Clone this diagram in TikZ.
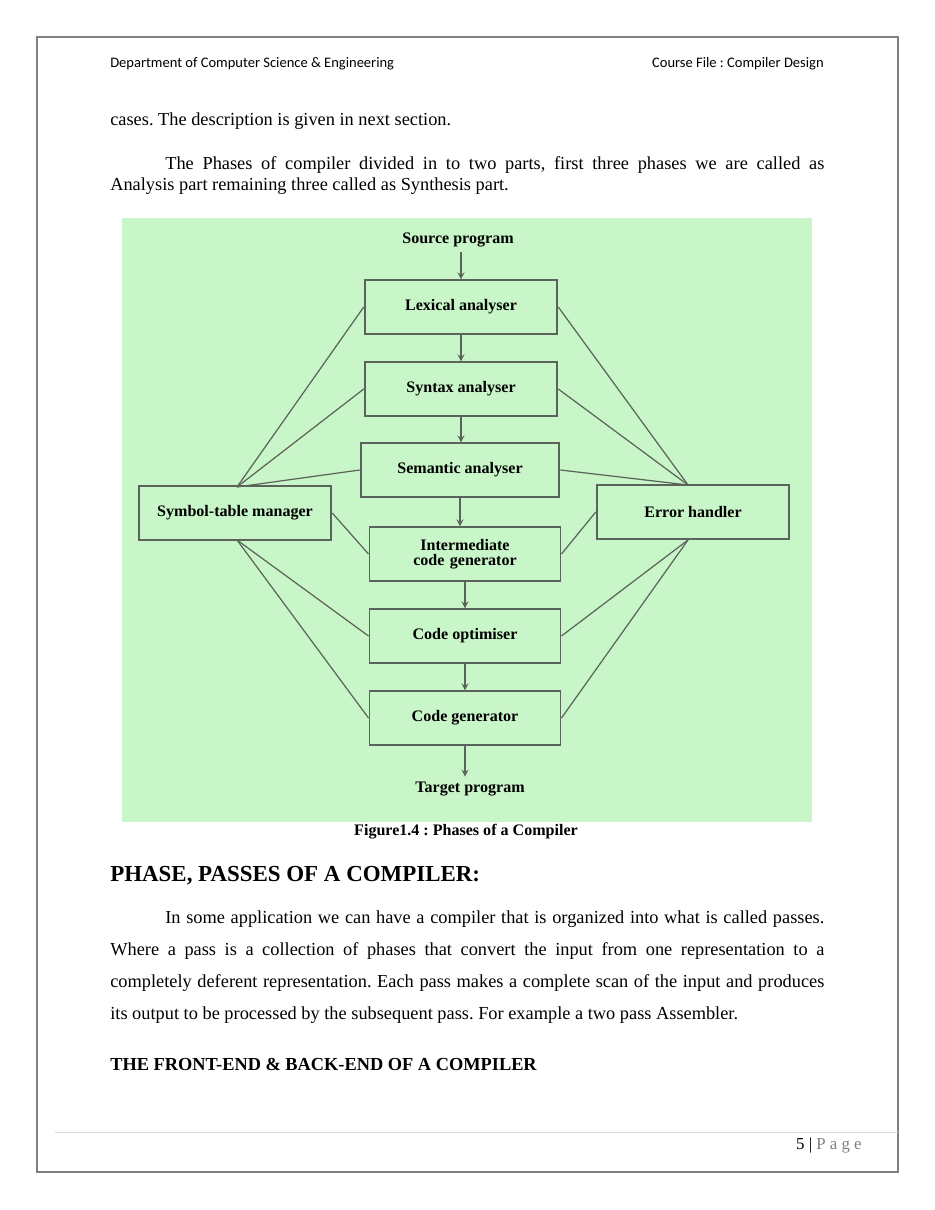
\documentclass[tikz,border=0pt]{standalone}
\usepackage{fontspec}
\setmainfont{Liberation Serif}
\newfontfamily\hdfont{Carlito}
\usetikzlibrary{positioning}
\definecolor{figgreen}{RGB}{200,246,200}
\definecolor{boxline}{RGB}{90,100,90}
\tikzset{
  phase/.style={draw=boxline, line width=1.2pt, minimum width=126pt, minimum height=35pt, align=center, font=\bfseries\fontsize{10.5}{12}\selectfont},
  side/.style={phase},
  link/.style={draw=boxline, line width=0.8pt},
  flow/.style={draw=boxline, line width=1pt, ->, >=stealth},
  para/.style={anchor=north west, text width=467pt, align=justify, inner sep=0pt, font=\fontsize{12}{14}\selectfont}
}
\begin{document}
\frenchspacing
\begin{tikzpicture}[x=0.654pt, y=-0.654pt]
  \useasboundingbox (0,0) rectangle (935,1210);
  % page frame and header
  \draw[gray, line width=0.8pt] (37,37) rectangle (898,1172);
  \node[anchor=west, font=\hdfont\fontsize{9.5}{10}\selectfont, inner sep=0pt] (dept) at (110,64) {Department of Computer Science \& Engineering};
  \node[anchor=east, font=\hdfont\fontsize{9.5}{10}\selectfont, inner sep=0pt] (course) at (824,64) {Course File : Compiler Design};

  % opening text
  \node[anchor=west, inner sep=0pt, font=\fontsize{12}{14}\selectfont] (cases) at (110,121) {cases. The description is given in next section.};
  \node[para] (intro) at (110,156) {\hspace*{36pt}The Phases of compiler divided in to two parts, first three phases we are called as\linebreak Analysis part remaining three called as Synthesis part.};

  % figure
  \fill[figgreen] (122,218) rectangle (812,822);
  \node[font=\bfseries\fontsize{10.5}{12}\selectfont] (src) at (458,240) {Source program};
  \node[phase] (lex) at (461,307) {Lexical analyser};
  \node[phase] (syn) at (461,389) {Syntax analyser};
  \node[phase, minimum width=130pt] (sem) at (460,470) {Semantic analyser};
  \node[phase, text width=110pt, minimum width=125pt] (icg) at (465,554) {Intermediate\\[-2pt]code generator};
  \node[phase, minimum width=125pt] (opt) at (465,636) {Code optimiser};
  \node[phase, minimum width=125pt] (gen) at (465,718) {Code generator};
  \node[font=\bfseries\fontsize{10.5}{12}\selectfont] (tgt) at (470,789) {Target program};
  \node[side] (sym) at (235,513) {Symbol-table manager};
  \node[side] (err) at (693,512) {Error handler};
  \coordinate (symtop) at (237,487);
  \coordinate (symbot) at (237,540);
  \coordinate (errtop) at (688,485);
  \coordinate (errbot) at (688,540);

  \draw[flow] (lex.north |- src.south) -- (lex.north);
  \draw[flow] (lex.south) -- (lex.south |- syn.north);
  \draw[flow] (syn.south) -- (syn.south |- sem.north);
  \draw[flow] (sem.south) -- (sem.south |- icg.north);
  \draw[flow] (icg.south) -- (icg.south |- opt.north);
  \draw[flow] (opt.south) -- (opt.south |- gen.north);
  \draw[flow] (gen.south) -- (gen.south |- tgt.north);

  % symbol table and error links
  \foreach \p in {lex,syn,sem} {
    \draw[link] (symtop) -- (\p.west);
    \draw[link] (errtop) -- (\p.east);
  }
  \draw[link] (sym.east) -- (icg.west);
  \draw[link] (err.west) -- (icg.east);
  \foreach \p in {opt,gen} {
    \draw[link] (symbot) -- (\p.west);
    \draw[link] (errbot) -- (\p.east);
  }
  \node[font=\bfseries\fontsize{10.5}{12}\selectfont] (cap) at (466,832) {Figure1.4 : Phases of a Compiler};

  % following section
  \node[anchor=west, inner sep=0pt, font=\bfseries\fontsize{15}{18}\selectfont] (head) at (110,876) {PHASE, PASSES OF A COMPILER:};
  \node[para, font=\fontsize{12}{21}\selectfont] (passes) at (110,910) {\hspace*{36pt}In some application we can have a compiler that is organized into what is called passes.\linebreak Where a pass is a collection of phases that convert the input from one representation to a\linebreak completely deferent representation. Each pass makes a complete scan of the input and produces\linebreak its output to be processed by the subsequent pass. For example a two pass Assembler.};
  \node[anchor=west, inner sep=0pt, font=\bfseries\fontsize{12}{14}\selectfont] (front) at (110,1064) {THE FRONT-END \& BACK-END OF A COMPILER};

  % footer
  \draw[gray!30, line width=0.6pt] (55,1132) -- (898,1132);
  \node[anchor=east, inner sep=0pt, font=\fontsize{11}{13}\selectfont] (pg) at (862,1145) {5 | \textcolor{gray}{P a g e}};
\end{tikzpicture}
\end{document}
